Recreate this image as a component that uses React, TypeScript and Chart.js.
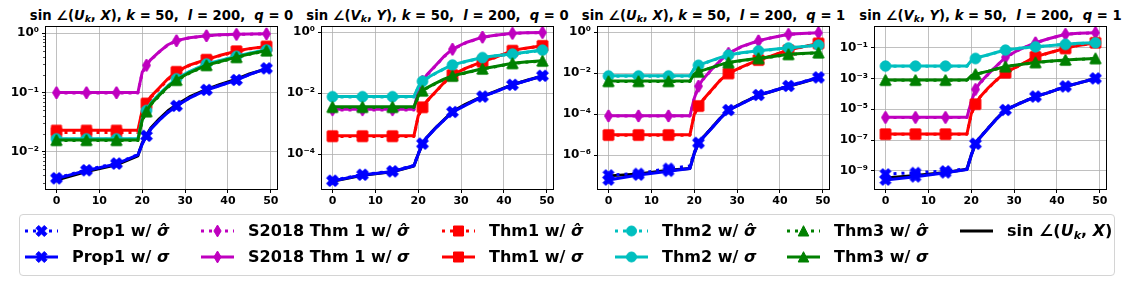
import React, { useEffect, useRef } from "react";
import { Chart, registerables } from "chart.js";

Chart.register(...registerables);

const FONT = "'DejaVu Sans', 'Liberation Sans', sans-serif";

// sampled x positions (markers drawn every 7th index)
const X_PTS = [0, 7, 14, 19, 20, 21, 22, 24, 26, 28, 31, 35, 38, 42, 45, 49];
const X_TICKS = [0, 10, 20, 30, 40, 50];
const X_RANGE = [-2.45, 51.45];
const MARK_EVERY = 7;

// ---------- panel 1: sin∠(U_k, X), q = 0 ----------
const P1_PROP1_HAT = [0.0036, 0.0049, 0.0064, 0.0089, 0.0136, 0.0186, 0.0243, 0.0345, 0.0465, 0.0595, 0.081, 0.111, 0.131, 0.163, 0.201, 0.256];
const P1_PROP1 = [0.0035, 0.0048, 0.0062, 0.0088, 0.0134, 0.0184, 0.024, 0.034, 0.046, 0.059, 0.08, 0.11, 0.13, 0.162, 0.2, 0.255];
const P1_S2018_HAT = [0.098, 0.098, 0.098, 0.098, 0.215, 0.285, 0.355, 0.485, 0.635, 0.745, 0.835, 0.905, 0.935, 0.955, 0.965, 0.975];
const P1_S2018 = [0.1, 0.1, 0.1, 0.1, 0.22, 0.29, 0.36, 0.49, 0.64, 0.75, 0.84, 0.91, 0.94, 0.96, 0.97, 0.98];
const P1_THM1_HAT = [0.021, 0.021, 0.021, 0.021, 0.047, 0.063, 0.082, 0.116, 0.165, 0.22, 0.285, 0.355, 0.415, 0.495, 0.545, 0.595];
const P1_THM1 = [0.023, 0.023, 0.023, 0.023, 0.05, 0.066, 0.085, 0.12, 0.17, 0.225, 0.29, 0.36, 0.42, 0.5, 0.55, 0.6];
const P1_THM2_HAT = [0.0162, 0.0162, 0.0162, 0.0162, 0.035, 0.049, 0.065, 0.093, 0.128, 0.168, 0.22, 0.3, 0.34, 0.405, 0.455, 0.52];
const P1_THM2 = [0.0166, 0.0166, 0.0166, 0.0166, 0.036, 0.05, 0.066, 0.095, 0.13, 0.171, 0.225, 0.305, 0.345, 0.41, 0.46, 0.525];
const P1_THM3_HAT = [0.0154, 0.0154, 0.0154, 0.0154, 0.033, 0.047, 0.062, 0.088, 0.122, 0.16, 0.212, 0.285, 0.325, 0.39, 0.44, 0.505];
const P1_THM3 = [0.0158, 0.0158, 0.0158, 0.0158, 0.034, 0.048, 0.063, 0.09, 0.125, 0.163, 0.215, 0.29, 0.33, 0.395, 0.445, 0.51];
const P1_SIN = [0.0033, 0.0046, 0.006, 0.0085, 0.014, 0.019, 0.025, 0.036, 0.049, 0.062, 0.084, 0.113, 0.136, 0.168, 0.205, 0.25];
const P1_Y_TICKS = [1e-2, 1e-1, 1e0];
const P1_Y_RANGE = [2.34e-3, 1.276];

// ---------- panel 2: sin∠(V_k, Y), q = 0 ----------
const P2_PROP1_HAT = [1.38e-5, 2.15e-5, 2.8e-5, 4.3e-5, 1.05e-4, 2.25e-4, 3.6e-4, 7.2e-4, 1.32e-3, 2.45e-3, 4.1e-3, 7.8e-3, 1.12e-2, 1.9e-2, 2.55e-2, 3.75e-2];
const P2_PROP1 = [1.33e-5, 2.1e-5, 2.7e-5, 4.2e-5, 1.0e-4, 2.2e-4, 3.5e-4, 7.0e-4, 1.3e-3, 2.4e-3, 4.0e-3, 7.7e-3, 1.1e-2, 1.87e-2, 2.5e-2, 3.7e-2];
const P2_S2018_HAT = [0.0028, 0.0028, 0.0028, 0.0028, 0.0115, 0.024, 0.038, 0.078, 0.155, 0.27, 0.44, 0.68, 0.79, 0.91, 0.95, 0.97];
const P2_S2018 = [0.003, 0.003, 0.003, 0.003, 0.012, 0.025, 0.04, 0.08, 0.16, 0.28, 0.45, 0.69, 0.8, 0.92, 0.96, 0.98];
const P2_THM1_HAT = [3.8e-4, 3.8e-4, 3.8e-4, 3.8e-4, 0.0017, 0.0034, 0.0053, 0.0107, 0.0215, 0.039, 0.064, 0.107, 0.148, 0.245, 0.295, 0.355];
const P2_THM1 = [4e-4, 4e-4, 4e-4, 4e-4, 0.0018, 0.0035, 0.0055, 0.011, 0.022, 0.04, 0.065, 0.109, 0.15, 0.25, 0.3, 0.36];
const P2_THM2_HAT = [0.0075, 0.0075, 0.0075, 0.0075, 0.0155, 0.024, 0.03, 0.044, 0.062, 0.083, 0.108, 0.145, 0.167, 0.19, 0.216, 0.255];
const P2_THM2 = [0.0078, 0.0078, 0.0078, 0.0078, 0.016, 0.025, 0.031, 0.045, 0.063, 0.085, 0.11, 0.148, 0.17, 0.194, 0.22, 0.26];
const P2_THM3_HAT = [0.0034, 0.0034, 0.0034, 0.0034, 0.0077, 0.0118, 0.0145, 0.0205, 0.028, 0.036, 0.046, 0.062, 0.074, 0.094, 0.103, 0.113];
const P2_THM3 = [0.0036, 0.0036, 0.0036, 0.0036, 0.008, 0.0122, 0.015, 0.021, 0.029, 0.037, 0.047, 0.063, 0.075, 0.096, 0.105, 0.115];
const P2_SIN = [1.3e-5, 2.05e-5, 2.65e-5, 4.1e-5, 1.0e-4, 2.15e-4, 3.5e-4, 7.2e-4, 1.35e-3, 2.5e-3, 4.3e-3, 7.9e-3, 1.15e-2, 1.9e-2, 2.55e-2, 3.65e-2];
const P2_Y_TICKS = [1e-4, 1e-2, 1e0];
const P2_Y_RANGE = [7.24e-6, 1.48];

// ---------- panel 3: sin∠(U_k, X), q = 1 ----------
const P3_PROP1_HAT = [1.1e-7, 1.3e-7, 2.3e-7, 3.0e-7, 1.4e-6, 4.2e-6, 7.3e-6, 2.1e-5, 6.2e-5, 1.65e-4, 3.3e-4, 8.9e-4, 1.35e-3, 2.45e-3, 3.7e-3, 6.4e-3];
const P3_PROP1 = [6.3e-8, 1.1e-7, 1.7e-7, 2.3e-7, 1.2e-6, 3.9e-6, 7e-6, 2e-5, 6e-5, 1.6e-4, 3.2e-4, 8.7e-4, 1.3e-3, 2.4e-3, 3.6e-3, 6.3e-3];
const P3_S2018_HAT = [8.2e-5, 8.2e-5, 8.2e-5, 8.2e-5, 5.8e-4, 2.3e-3, 4.8e-3, 0.0145, 0.039, 0.093, 0.195, 0.38, 0.54, 0.79, 0.87, 0.94];
const P3_S2018 = [8.5e-5, 8.5e-5, 8.5e-5, 8.5e-5, 6e-4, 2.4e-3, 5e-3, 0.015, 0.04, 0.095, 0.2, 0.39, 0.55, 0.8, 0.88, 0.95];
const P3_THM1_HAT = [9.6e-6, 9.6e-6, 9.6e-6, 9.6e-6, 9.6e-5, 2.5e-4, 4.8e-4, 1.45e-3, 4.4e-3, 9.8e-3, 0.0195, 0.044, 0.068, 0.134, 0.185, 0.285];
const P3_THM1 = [1e-5, 1e-5, 1e-5, 1e-5, 1e-4, 2.6e-4, 5e-4, 1.5e-3, 4.5e-3, 0.01, 0.02, 0.045, 0.07, 0.137, 0.19, 0.29];
const P3_THM2_HAT = [7.3e-3, 7.3e-3, 7.3e-3, 7.3e-3, 0.0165, 0.024, 0.029, 0.041, 0.056, 0.076, 0.098, 0.124, 0.142, 0.173, 0.196, 0.235];
const P3_THM2 = [7.6e-3, 7.6e-3, 7.6e-3, 7.6e-3, 0.017, 0.025, 0.03, 0.042, 0.058, 0.078, 0.1, 0.127, 0.145, 0.177, 0.2, 0.24];
const P3_THM3_HAT = [4.0e-3, 4.0e-3, 4.0e-3, 4.0e-3, 0.0087, 0.0116, 0.0136, 0.0185, 0.0252, 0.033, 0.041, 0.053, 0.062, 0.083, 0.091, 0.1];
const P3_THM3 = [4.2e-3, 4.2e-3, 4.2e-3, 4.2e-3, 0.009, 0.012, 0.014, 0.019, 0.026, 0.034, 0.042, 0.054, 0.064, 0.085, 0.093, 0.102];
const P3_SIN = [1.0e-7, 1.25e-7, 1.9e-7, 2.3e-7, 1.25e-6, 4e-6, 7.2e-6, 2.1e-5, 6.3e-5, 1.6e-4, 3.4e-4, 8.5e-4, 1.3e-3, 2.35e-3, 3.5e-3, 6.1e-3];
const P3_Y_TICKS = [1e-6, 1e-4, 1e-2, 1e0];
const P3_Y_RANGE = [2.29e-8, 1.82];

// ---------- panel 4: sin∠(V_k, Y), q = 1 ----------
const P4_PROP1_HAT = [6.3e-10, 7.8e-10, 1.0e-9, 1.35e-9, 1.1e-8, 6e-8, 1.5e-7, 6.3e-7, 2.6e-6, 9.2e-6, 2.3e-5, 6.8e-5, 1.25e-4, 3.1e-4, 5.1e-4, 1.02e-3];
const P4_PROP1 = [2.6e-10, 4.2e-10, 7.6e-10, 1.25e-9, 1e-8, 5.6e-8, 1.4e-7, 6e-7, 2.5e-6, 8.9e-6, 2.2e-5, 6.6e-5, 1.2e-4, 3e-4, 5e-4, 1e-3];
const P4_S2018_HAT = [2.9e-6, 2.9e-6, 2.9e-6, 2.9e-6, 2.9e-5, 1.9e-4, 4.8e-4, 1.9e-3, 6.8e-3, 0.023, 0.068, 0.205, 0.37, 0.73, 0.84, 0.92];
const P4_S2018 = [3e-6, 3e-6, 3e-6, 3e-6, 3e-5, 2e-4, 5e-4, 2e-3, 7e-3, 0.024, 0.07, 0.21, 0.38, 0.74, 0.85, 0.93];
const P4_THM1_HAT = [2.4e-7, 2.4e-7, 2.4e-7, 2.4e-7, 4.8e-6, 2.1e-5, 5.8e-5, 2.4e-4, 8.2e-4, 2.3e-3, 6.3e-3, 0.025, 0.044, 0.089, 0.137, 0.205];
const P4_THM1 = [2.5e-7, 2.5e-7, 2.5e-7, 2.5e-7, 5e-6, 2.2e-5, 6e-5, 2.5e-4, 8.5e-4, 2.4e-3, 6.5e-3, 0.026, 0.045, 0.091, 0.14, 0.21];
const P4_THM2_HAT = [6.3e-3, 6.3e-3, 6.3e-3, 6.3e-3, 0.0135, 0.0195, 0.0245, 0.034, 0.049, 0.069, 0.088, 0.112, 0.132, 0.162, 0.186, 0.205];
const P4_THM2 = [6.5e-3, 6.5e-3, 6.5e-3, 6.5e-3, 0.014, 0.02, 0.025, 0.035, 0.05, 0.071, 0.09, 0.115, 0.135, 0.166, 0.19, 0.21];
const P4_THM3_HAT = [7.7e-4, 7.7e-4, 7.7e-4, 7.7e-4, 1.45e-3, 1.85e-3, 2.15e-3, 2.9e-3, 4.2e-3, 5.8e-3, 7.6e-3, 0.0107, 0.0127, 0.0156, 0.0176, 0.0195];
const P4_THM3 = [7.9e-4, 7.9e-4, 7.9e-4, 7.9e-4, 1.5e-3, 1.9e-3, 2.2e-3, 3e-3, 4.3e-3, 5.9e-3, 7.8e-3, 0.011, 0.013, 0.016, 0.018, 0.02];
const P4_SIN = [3.5e-10, 5e-10, 8e-10, 1.3e-9, 1.05e-8, 5.8e-8, 1.45e-7, 6.2e-7, 2.6e-6, 9e-6, 2.25e-5, 6.7e-5, 1.22e-4, 3e-4, 5e-4, 1e-3];
const P4_Y_TICKS = [1e-9, 1e-7, 1e-5, 1e-3, 1e-1];
const P4_Y_RANGE = [6.76e-11, 2.19];

const SERIES_NAMES = [
  "Prop1 w/ σ̂", "Prop1 w/ σ",
  "S2018 Thm 1 w/ σ̂", "S2018 Thm 1 w/ σ",
  "Thm1 w/ σ̂", "Thm1 w/ σ",
  "Thm2 w/ σ̂", "Thm2 w/ σ",
  "Thm3 w/ σ̂", "Thm3 w/ σ",
  "sin ∠(U_k, X)",
];
const LEGEND_PREFIX = ["Prop1 w/ ", "Prop1 w/ ", "S2018 Thm 1 w/ ", "S2018 Thm 1 w/ ", "Thm1 w/ ", "Thm1 w/ ", "Thm2 w/ ", "Thm2 w/ ", "Thm3 w/ ", "Thm3 w/ "];

type Style = { color: string; marker: string | null; dotted: boolean };
const STYLES: Style[] = [
  { color: "#0000ff", marker: "X", dotted: true },
  { color: "#0000ff", marker: "X", dotted: false },
  { color: "#bf00bf", marker: "d", dotted: true },
  { color: "#bf00bf", marker: "d", dotted: false },
  { color: "#ff0000", marker: "s", dotted: true },
  { color: "#ff0000", marker: "s", dotted: false },
  { color: "#00bfbf", marker: "o", dotted: true },
  { color: "#00bfbf", marker: "o", dotted: false },
  { color: "#008000", marker: "^", dotted: true },
  { color: "#008000", marker: "^", dotted: false },
  { color: "#000000", marker: null, dotted: false },
];

type Panel = { fn: string; set: string; q: string; series: number[][]; yTicks: number[]; yRange: number[]; minor: boolean };
const PANELS: Panel[] = [
  { fn: "U", set: "X", q: "0", series: [P1_PROP1_HAT, P1_PROP1, P1_S2018_HAT, P1_S2018, P1_THM1_HAT, P1_THM1, P1_THM2_HAT, P1_THM2, P1_THM3_HAT, P1_THM3, P1_SIN], yTicks: P1_Y_TICKS, yRange: P1_Y_RANGE, minor: true },
  { fn: "V", set: "Y", q: "0", series: [P2_PROP1_HAT, P2_PROP1, P2_S2018_HAT, P2_S2018, P2_THM1_HAT, P2_THM1, P2_THM2_HAT, P2_THM2, P2_THM3_HAT, P2_THM3, P2_SIN], yTicks: P2_Y_TICKS, yRange: P2_Y_RANGE, minor: false },
  { fn: "U", set: "X", q: "1", series: [P3_PROP1_HAT, P3_PROP1, P3_S2018_HAT, P3_S2018, P3_THM1_HAT, P3_THM1, P3_THM2_HAT, P3_THM2, P3_THM3_HAT, P3_THM3, P3_SIN], yTicks: P3_Y_TICKS, yRange: P3_Y_RANGE, minor: false },
  { fn: "V", set: "Y", q: "1", series: [P4_PROP1_HAT, P4_PROP1, P4_S2018_HAT, P4_S2018, P4_THM1_HAT, P4_THM1, P4_THM2_HAT, P4_THM2, P4_THM3_HAT, P4_THM3, P4_SIN], yTicks: P4_Y_TICKS, yRange: P4_Y_RANGE, minor: false },
];

// layout
const PLOT_LEFTS = [46, 322, 598, 875];
const PLOT_W = 231;
const PLOT_TOP = 27;
const PLOT_BOTTOM = 189;
const Y_AXIS_W = 45;
const CANVAS_H = 212;
const CANVAS_PAD_R = 8;
const LEGEND_COLS = [25, 201, 442, 615, 787, 960];
const LEGEND_ROWS = [231, 257];

const SUP: Record<string, string> = { "-": "⁻", "0": "⁰", "1": "¹", "2": "²", "3": "³", "4": "⁴", "5": "⁵", "6": "⁶", "7": "⁷", "8": "⁸", "9": "⁹" };
function powLabel(v: number) {
  const e = Math.round(Math.log10(v));
  return "10" + String(e).split("").map((c) => SUP[c]).join("");
}

function drawMarker(g: CanvasRenderingContext2D, kind: string, color: string, cx: number, cy: number) {
  g.save();
  g.translate(cx, cy);
  g.fillStyle = color;
  g.strokeStyle = color;
  g.lineWidth = 1;
  g.lineJoin = "miter";
  g.beginPath();
  if (kind === "s") {
    g.rect(-5, -5, 10, 10);
  } else if (kind === "o") {
    g.arc(0, 0, 5, 0, Math.PI * 2);
  } else if (kind === "^") {
    g.moveTo(0, -5.3);
    g.lineTo(5.3, 5);
    g.lineTo(-5.3, 5);
    g.closePath();
  } else if (kind === "d") {
    g.moveTo(0, -6);
    g.lineTo(3.6, 0);
    g.lineTo(0, 6);
    g.lineTo(-3.6, 0);
    g.closePath();
  } else if (kind === "X") {
    const pts = [[-1, -2], [0, -1], [1, -2], [2, -1], [1, 0], [2, 1], [1, 2], [0, 1], [-1, 2], [-2, 1], [-1, 0], [-2, -1]];
    const s = 11 / 4;
    pts.forEach((p, k) => (k === 0 ? g.moveTo(p[0] * s, p[1] * s) : g.lineTo(p[0] * s, p[1] * s)));
    g.closePath();
  }
  g.fill();
  g.stroke();
  g.restore();
}

function makeMarker(kind: string, color: string) {
  const c = document.createElement("canvas");
  c.width = 18;
  c.height = 18;
  const g = c.getContext("2d")!;
  drawMarker(g, kind, color, 9, 9);
  return c;
}

const framePlugin = {
  id: "axesFrame",
  afterDatasetsDraw(chart: any, _args: any, opts: any) {
    const { ctx, chartArea: a } = chart;
    ctx.save();
    ctx.strokeStyle = "#000";
    ctx.lineWidth = 1;
    const l = Math.round(a.left) - 0.5;
    const r = Math.round(a.right) + 0.5;
    const t = Math.round(a.top) - 0.5;
    const b = Math.round(a.bottom) + 0.5;
    ctx.strokeRect(l, t, r - l, b - t);
    if (opts && opts.minor) {
      const ys = chart.scales.y;
      ctx.lineWidth = 0.7;
      for (let e = -12; e <= 1; e++) {
        for (let m = 2; m <= 9; m++) {
          const v = m * Math.pow(10, e);
          if (v < ys.min || v > ys.max) continue;
          const py = Math.round(ys.getPixelForValue(v)) + 0.5;
          ctx.beginPath();
          ctx.moveTo(l, py);
          ctx.lineTo(l - 2.5, py);
          ctx.stroke();
        }
      }
    }
    ctx.restore();
  },
};

function buildChart(canvas: HTMLCanvasElement, p: Panel) {
  const xTickFont = { family: FONT, size: 11, weight: "bold" as const };
  const yTickFont = { family: FONT, size: 12, weight: "bold" as const };
  const datasets = STYLES.map((st, i) => {
    const vals = p.series[i];
    const mk = st.marker ? makeMarker(st.marker, st.color) : null;
    return {
      label: SERIES_NAMES[i],
      data: X_PTS.map((x, j) => ({ x, y: vals[j] })),
      borderColor: st.color,
      backgroundColor: st.color,
      borderWidth: 3,
      borderDash: st.dotted ? [3, 5] : [],
      borderCapStyle: "butt" as const,
      borderJoinStyle: "round" as const,
      pointStyle: mk || false,
      pointRadius: (c: any) => (mk && c.dataIndex !== undefined && X_PTS[c.dataIndex] % MARK_EVERY === 0 ? 5 : 0),
      pointHoverRadius: 0,
      tension: 0,
      fill: false,
      order: i === 10 ? 100 : 10 - i,
    };
  });
  return new Chart(canvas, {
    type: "line",
    data: { datasets: datasets as any },
    options: {
      animation: false,
      responsive: false,
      events: [],
      layout: { padding: { top: PLOT_TOP, right: CANVAS_PAD_R, left: 0, bottom: 0 } },
      plugins: {
        legend: { display: false },
        tooltip: { enabled: false },
        title: { display: false },
        axesFrame: { minor: p.minor },
      } as any,
      scales: {
        x: {
          type: "linear",
          min: X_RANGE[0],
          max: X_RANGE[1],
          afterBuildTicks: (s: any) => {
            s.ticks = X_TICKS.map((v) => ({ value: v }));
          },
          afterFit: (s: any) => {
            s.height = CANVAS_H - PLOT_BOTTOM;
          },
          grid: { color: "#b0b0b0", lineWidth: 0.8, tickColor: "#000", tickLength: 4, tickWidth: 1 },
          border: { display: false },
          ticks: { font: xTickFont, color: "#000", padding: 2, maxRotation: 0, autoSkip: false, callback: (v: any) => String(v) },
        },
        y: {
          type: "logarithmic",
          min: p.yRange[0],
          max: p.yRange[1],
          afterBuildTicks: (s: any) => {
            s.ticks = p.yTicks.map((v) => ({ value: v, major: true }));
          },
          afterFit: (s: any) => {
            s.width = Y_AXIS_W;
          },
          grid: { color: "#b0b0b0", lineWidth: 0.8, tickColor: "#000", tickLength: 4, tickWidth: 1 },
          border: { display: false },
          ticks: { font: yTickFont, color: "#000", padding: 3, autoSkip: false, callback: (v: any) => powLabel(Number(v)) },
        },
      } as any,
    },
    plugins: [framePlugin],
  });
}

function Title({ p }: { p: Panel }) {
  return (
    <span>
      sin ∠(<i>{p.fn}</i>
      <sub style={{ fontSize: "0.7em", verticalAlign: "-0.25em", lineHeight: 0 }}>
        <i>k</i>
      </sub>
      , <i>{p.set}</i>), <i>k</i> = 50,{"\u00a0\u00a0"}
      <i>l</i> = 200,{"\u00a0\u00a0"}
      <i>q</i> = {p.q}
    </span>
  );
}

function LegendText({ i }: { i: number }) {
  if (i === 10) {
    return (
      <span>
        sin ∠(<i>U</i>
        <sub style={{ fontSize: "0.7em", verticalAlign: "-0.25em", lineHeight: 0 }}>
          <i>k</i>
        </sub>
        , <i>X</i>)
      </span>
    );
  }
  return (
    <span>
      {LEGEND_PREFIX[i]}
      <i>{i % 2 === 0 ? "σ\u0302" : "σ"}</i>
    </span>
  );
}

export default function App() {
  const r0 = useRef<HTMLCanvasElement>(null);
  const r1 = useRef<HTMLCanvasElement>(null);
  const r2 = useRef<HTMLCanvasElement>(null);
  const r3 = useRef<HTMLCanvasElement>(null);
  const legendRef = useRef<HTMLCanvasElement>(null);
  const refs = [r0, r1, r2, r3];

  const legendEntries: { idx: number; col: number; row: number }[] = [];
  for (let i = 0; i < 11; i++) {
    legendEntries.push({ idx: i, col: Math.floor(i / 2), row: i % 2 });
  }

  useEffect(() => {
    document.body.style.margin = "0";
    const charts = PANELS.map((p, i) => buildChart(refs[i].current as HTMLCanvasElement, p));
    const lc = legendRef.current;
    if (lc) {
      const g = lc.getContext("2d")!;
      g.clearRect(0, 0, lc.width, lc.height);
      legendEntries.forEach((e) => {
        const st = STYLES[e.idx];
        const x0 = LEGEND_COLS[e.col];
        const y = LEGEND_ROWS[e.row];
        g.save();
        g.strokeStyle = st.color;
        g.lineWidth = 3;
        g.lineCap = "butt";
        g.setLineDash(st.dotted ? [3, 5] : []);
        g.beginPath();
        g.moveTo(x0, y);
        g.lineTo(x0 + 33, y);
        g.stroke();
        g.restore();
        if (st.marker) drawMarker(g, st.marker, st.color, x0 + 16.5, y);
      });
    }
    return () => charts.forEach((c) => c.destroy());
  }, []);

  return (
    <div style={{ position: "relative", width: 1130, height: 281, background: "#fff", overflow: "hidden", fontFamily: FONT }}>
      {PANELS.map((p, i) => {
        const center = PLOT_LEFTS[i] + PLOT_W / 2;
        return (
          <div
            key={"t" + i}
            style={{ position: "absolute", left: center - 200, width: 400, top: 6, textAlign: "center", fontSize: 13.2, fontWeight: "bold", lineHeight: "20px", whiteSpace: "pre", color: "#000" }}
          >
            <Title p={p} />
          </div>
        );
      })}
      {PANELS.map((_p, i) => {
        const w = Y_AXIS_W + PLOT_W + CANVAS_PAD_R;
        return (
          <canvas
            key={"c" + i}
            ref={refs[i]}
            width={w}
            height={CANVAS_H}
            style={{ position: "absolute", left: PLOT_LEFTS[i] - Y_AXIS_W, top: 0, width: w, height: CANVAS_H }}
          />
        );
      })}
      <div style={{ position: "absolute", left: 19, top: 214, width: 1094, height: 60, border: "1px solid #d4d4d4", borderRadius: 4, background: "rgba(255,255,255,0.8)" }} />
      <canvas ref={legendRef} width={1130} height={281} style={{ position: "absolute", left: 0, top: 0, width: 1130, height: 281, pointerEvents: "none" }} />
      {legendEntries.map((e) => (
        <div
          key={"l" + e.idx}
          style={{ position: "absolute", left: LEGEND_COLS[e.col] + 47, top: LEGEND_ROWS[e.row] - 10, fontSize: 16, fontWeight: "bold", lineHeight: "20px", whiteSpace: "pre", color: "#000" }}
        >
          <LegendText i={e.idx} />
        </div>
      ))}
    </div>
  );
}
